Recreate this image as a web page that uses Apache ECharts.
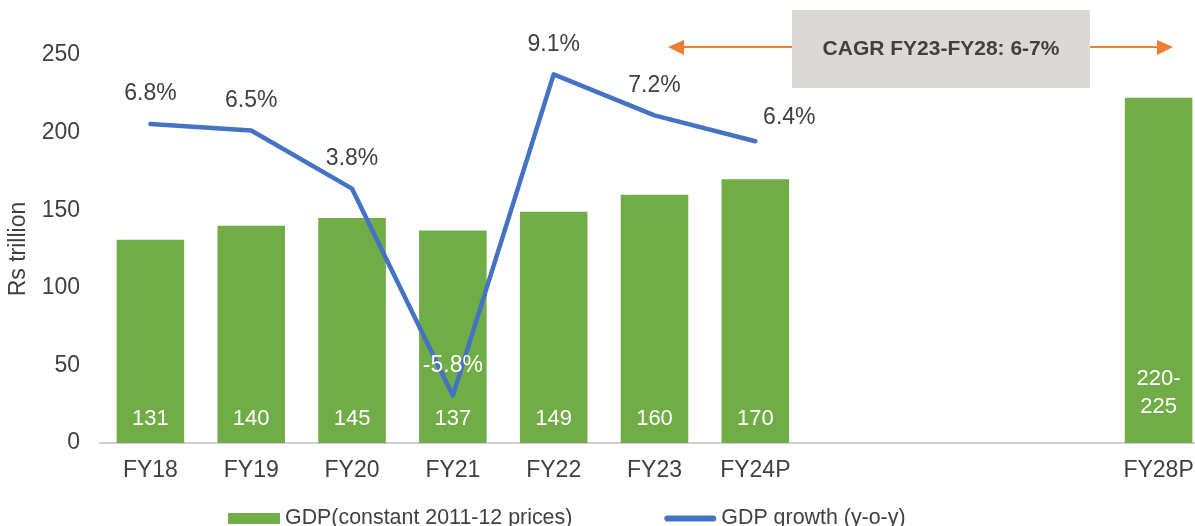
<!DOCTYPE html>
<html>
<head>
<meta charset="utf-8">
<script src="https://cdn.jsdelivr.net/npm/echarts@6/dist/echarts.min.js"></script>
<style>
  html, body { margin: 0; padding: 0; background: #fff; }
  #chart { width: 1195px; height: 526px; }
</style>
</head>
<body>
<div id="chart"></div>
<script>
// categories (FY25-FY27 left blank, as in the source)
var categories = ['FY18', 'FY19', 'FY20', 'FY21', 'FY22', 'FY23', 'FY24P', '', '', '', 'FY28P'];
// GDP, Rs trillion (FY28P drawn at the middle of the 220-225 range)
var gdpValues = [131, 140, 145, 137, 149, 160, 170, null, null, null, 222.5];
var gdpLabels = ['131', '140', '145', '137', '149', '160', '170', '', '', '', '220-\n225'];
// GDP growth y-o-y, % (plotted position; FY24P point sits lower than its label)
var growthValues = [6.8, 6.5, 3.8, -5.8, 9.1, 7.2, 6.0, null, null, null, null];
var growthLabels = ['6.8%', '6.5%', '3.8%', '-5.8%', '9.1%', '7.2%', '6.4%', '', '', '', ''];
var yTicks = { min: 0, max: 250, interval: 50 };
var cagrText = 'CAGR FY23-FY28: 6-7%';

var FONT = 'Arial, "Liberation Sans", sans-serif';
var TEXT = '#404040';
// thin rounded bar for the line legend icon (zero-length moves keep the full 52x11 box)
var LINE_ICON = 'path://M0,0L0,0M3,2.5L49,2.5A3,3,0,0,1,49,8.5L3,8.5A3,3,0,0,1,3,2.5ZM52,11L52,11';

(function () {
    var myChart = echarts.init(document.getElementById('chart'));

    // bar data with a special label for the projected bar
    var barData = gdpValues.map(function (v, i) {
        var item = { value: v };
        if (i === gdpValues.length - 1) {
            item.label = { distance: 22 };
        }
        return item;
    });

    // line data, the last point's label sits to the right, the FY21 one is on the bar
    var lineData = growthValues.map(function (v, i) {
        var item = { value: v };
        if (i === 6) item.label = { offset: [34, 6] };
        if (v !== null && v < 0) item.label = { color: '#ffffff' };
        return item;
    });

    var option = {
        animation: false,
        textStyle: { fontFamily: FONT },
        grid: { left: 100, width: 1109, top: 55, bottom: 83, outerBoundsMode: 'none' },
        legend: {
            bottom: -8,
            left: 223,
            itemWidth: 52,
            itemHeight: 11,
            itemGap: 92,
            textStyle: { fontSize: 21.4, color: TEXT, fontFamily: FONT },
            data: [
                { name: 'GDP(constant 2011-12 prices)', icon: 'rect' },
                { name: 'GDP growth (y-o-y)', icon: LINE_ICON, itemStyle: { color: '#4472C4' } }
            ]
        },
        xAxis: {
            type: 'category',
            data: categories,
            axisTick: { show: false },
            axisLine: { lineStyle: { color: '#D0D0D0', width: 2 } },
            axisLabel: { color: TEXT, fontSize: 23, margin: 16, interval: 0 }
        },
        yAxis: [{
            type: 'value',
            min: yTicks.min,
            max: yTicks.max,
            interval: yTicks.interval,
            name: 'Rs trillion',
            nameLocation: 'middle',
            nameGap: 70,
            nameTextStyle: { color: TEXT, fontSize: 23 },
            splitLine: { show: false },
            axisLine: { show: false },
            axisTick: { show: false },
            axisLabel: { color: TEXT, fontSize: 23, margin: 20 }
        }, {
            type: 'value',
            min: -8,
            max: 10,
            show: false,
            splitLine: { show: false }
        }],
        series: [{
            name: 'GDP(constant 2011-12 prices)',
            type: 'bar',
            data: barData,
            barCategoryGap: '33%',
            itemStyle: { color: '#70AD47' },
            label: {
                show: true,
                position: 'insideBottom',
                distance: 10,
                color: '#ffffff',
                fontSize: 22,
                lineHeight: 28,
                formatter: function (p) { return gdpLabels[p.dataIndex]; }
            }
        }, {
            name: 'GDP growth (y-o-y)',
            type: 'line',
            yAxisIndex: 1,
            data: lineData,
            symbol: 'circle',
            symbolSize: 1,
            showSymbol: true,
            z: 5,
            lineStyle: { color: '#4472C4', width: 4.5, cap: 'round', join: 'round' },
            itemStyle: { color: '#4472C4' },
            label: {
                show: true,
                position: 'top',
                distance: 18,
                color: TEXT,
                fontSize: 23,
                formatter: function (p) { return growthLabels[p.dataIndex]; }
            }
        }],
        // CAGR call-out with orange arrows
        graphic: [
            { type: 'line', shape: { x1: 682, y1: 47, x2: 792, y2: 47 }, style: { stroke: '#ED7D31', lineWidth: 2 } },
            { type: 'polygon', shape: { points: [[668, 47], [684, 40], [684, 55]] }, style: { fill: '#ED7D31' } },
            { type: 'line', shape: { x1: 1090, y1: 47, x2: 1159, y2: 47 }, style: { stroke: '#ED7D31', lineWidth: 2 } },
            { type: 'polygon', shape: { points: [[1173, 47], [1157, 40], [1157, 55]] }, style: { fill: '#ED7D31' } },
            { type: 'rect', shape: { x: 792, y: 10, width: 298, height: 78 }, style: { fill: '#DAD9D5' } },
            {
                type: 'text', x: 941, y: 49,
                style: {
                    text: cagrText, fill: TEXT, font: 'bold 21px ' + FONT,
                    align: 'center', verticalAlign: 'middle'
                }
            }
        ]
    };

    myChart.setOption(option);
    window.addEventListener('resize', function () {
        myChart.resize();
    });
})();
</script>
</body>
</html>
